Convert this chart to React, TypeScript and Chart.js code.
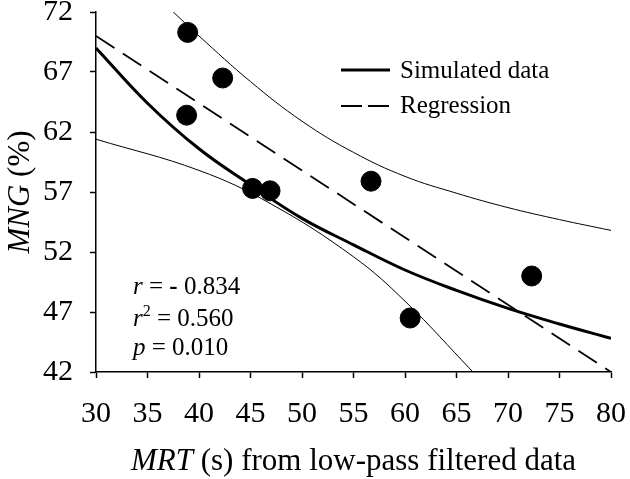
import { useEffect, useRef } from 'react';
import { Chart, registerables } from 'chart.js';

Chart.register(...registerables);

const SERIF = '"Liberation Serif", "Times New Roman", serif';

// observed points
const mrtObs = [38.9, 42.3, 38.8, 45.2, 46.9, 56.7, 60.5, 72.3];
const mngObs = [70.3, 66.5, 63.4, 57.3, 57.1, 57.9, 46.5, 50.0];

// simulated data curve
const simX = [30, 35, 40, 45, 50, 55, 60, 65, 70, 75, 80];
const simY = [69.0, 64.4, 60.6, 57.6, 54.8, 52.6, 50.5, 48.8, 47.3, 46.0, 44.8];

// regression line
const regX = [30, 80];
const regY = [70.0, 42.0];

// confidence bands
const upperX = [37.5, 40, 45, 50, 55, 60, 65, 70, 75, 80];
const upperY = [72.0, 70.0, 66.2, 62.9, 60.3, 58.3, 56.9, 55.7, 54.7, 53.8];
const lowerX = [30, 40, 47, 55, 60, 66.6];
const lowerY = [61.4, 58.8, 56.0, 51.6, 47.9, 42.0];

const xTicks = [30, 35, 40, 45, 50, 55, 60, 65, 70, 75, 80];
const yTicks = [42, 47, 52, 57, 62, 67, 72];

const pts = (xs: number[], ys: number[]) => xs.map((x, i) => ({ x, y: ys[i] }));

const textPlugin = {
  id: 'texts',
  afterDraw(chart: Chart) {
    const { ctx, chartArea } = chart;
    ctx.save();
    ctx.fillStyle = '#000';
    ctx.strokeStyle = '#000';
    ctx.textBaseline = 'alphabetic';

    // x title
    const parts: [string, string][] = [
      ['italic 31px ' + SERIF, 'MRT'],
      ['31px ' + SERIF, ' (s) from low-pass filtered data'],
    ];
    let w = 0;
    parts.forEach(([f, t]) => { ctx.font = f; w += ctx.measureText(t).width; });
    let x = (chartArea.left + chartArea.right) / 2 - w / 2;
    parts.forEach(([f, t]) => { ctx.font = f; ctx.fillText(t, x, 470); x += ctx.measureText(t).width; });

    // y title
    ctx.save();
    ctx.translate(29, (chartArea.top + chartArea.bottom) / 2);
    ctx.rotate(-Math.PI / 2);
    const yParts: [string, string][] = [
      ['italic 31px ' + SERIF, 'MNG'],
      ['31px ' + SERIF, ' (%)'],
    ];
    w = 0;
    yParts.forEach(([f, t]) => { ctx.font = f; w += ctx.measureText(t).width; });
    x = -w / 2;
    yParts.forEach(([f, t]) => { ctx.font = f; ctx.fillText(t, x, 0); x += ctx.measureText(t).width; });
    ctx.restore();

    // legend
    ctx.font = '25px ' + SERIF;
    ctx.lineWidth = 3;
    ctx.beginPath(); ctx.moveTo(341, 70); ctx.lineTo(390, 70); ctx.stroke();
    ctx.fillText('Simulated data', 400, 78);
    ctx.lineWidth = 1.8;
    ctx.setLineDash([21, 6]);
    ctx.beginPath(); ctx.moveTo(341, 106); ctx.lineTo(389, 106); ctx.stroke();
    ctx.setLineDash([]);
    ctx.fillText('Regression', 400, 113);

    // statistics
    const line = (segs: [string, string, number?][], bx: number, by: number) => {
      let cx = bx;
      segs.forEach(([f, t, dy]) => {
        ctx.font = f;
        ctx.fillText(t, cx, by + (dy || 0));
        cx += ctx.measureText(t).width;
      });
    };
    line([['italic 25px ' + SERIF, 'r'], ['25px ' + SERIF, ' = '], ['bold 25px ' + SERIF, '-'], ['25px ' + SERIF, ' 0.834']], 133, 294);
    line([['italic 25px ' + SERIF, 'r'], ['16px ' + SERIF, '2', -10], ['25px ' + SERIF, ' = 0.560']], 133, 326);
    line([['italic 25px ' + SERIF, 'p'], ['25px ' + SERIF, ' = 0.010']], 133, 355);
    ctx.restore();
  },
};

export default function App() {
  const canvasRef = useRef<HTMLCanvasElement>(null);

  useEffect(() => {
    if (!canvasRef.current) return;
    const tickFont = { family: SERIF, size: 30 };
    const curve = { showLine: true, borderColor: '#000', pointRadius: 0, tension: 0.4 };
    const chart = new Chart(canvasRef.current, {
      type: 'scatter',
      data: {
        datasets: [
          {
            data: pts(mrtObs, mngObs),
            pointRadius: 10,
            pointBackgroundColor: '#000',
            pointBorderColor: '#000',
            showLine: false,
          },
          { ...curve, data: pts(simX, simY), borderWidth: 3 },
          { ...curve, data: pts(regX, regY), borderWidth: 1.8, borderDash: [22, 10], tension: 0 },
          { ...curve, data: pts(upperX, upperY), borderWidth: 1 },
          { ...curve, data: pts(lowerX, lowerY), borderWidth: 1 },
        ],
      },
      options: {
        animation: false,
        responsive: false,
        devicePixelRatio: 1,
        layout: { padding: { top: 12, right: 19, left: 0, bottom: 0 } },
        plugins: { legend: { display: false }, tooltip: { enabled: false } },
        scales: {
          x: {
            type: 'linear',
            min: 30,
            max: 80,
            afterBuildTicks: (s: any) => { s.ticks = xTicks.map((v) => ({ value: v })); },
            ticks: { font: tickFont, color: '#000', padding: 18, maxRotation: 0 },
            grid: { drawOnChartArea: false, drawTicks: true, tickLength: 6, color: '#000', tickWidth: 1.5 },
            border: { display: true, color: '#000', width: 1.5 },
            afterFit: (s: any) => { s.height = 107; s.paddingLeft = 0; s.paddingRight = 0; },
          },
          y: {
            type: 'linear',
            min: 42,
            max: 72,
            afterBuildTicks: (s: any) => { s.ticks = yTicks.map((v) => ({ value: v })); },
            ticks: { font: tickFont, color: '#000', padding: 17 },
            grid: { drawOnChartArea: false, drawTicks: true, tickLength: 6, color: '#000', tickWidth: 1.5 },
            border: { display: true, color: '#000', width: 1.5 },
            afterFit: (s: any) => { s.width = 96; s.paddingTop = 0; s.paddingBottom = 0; },
          },
        },
      },
      plugins: [textPlugin],
    });
    return () => { chart.destroy(); };
  }, []);

  return (
    <div style={{ position: 'fixed', left: 0, top: 0, width: 630, height: 479, background: '#fff' }}>
      <canvas ref={canvasRef} width={630} height={479} style={{ display: 'block', width: 630, height: 479 }} />
    </div>
  );
}
